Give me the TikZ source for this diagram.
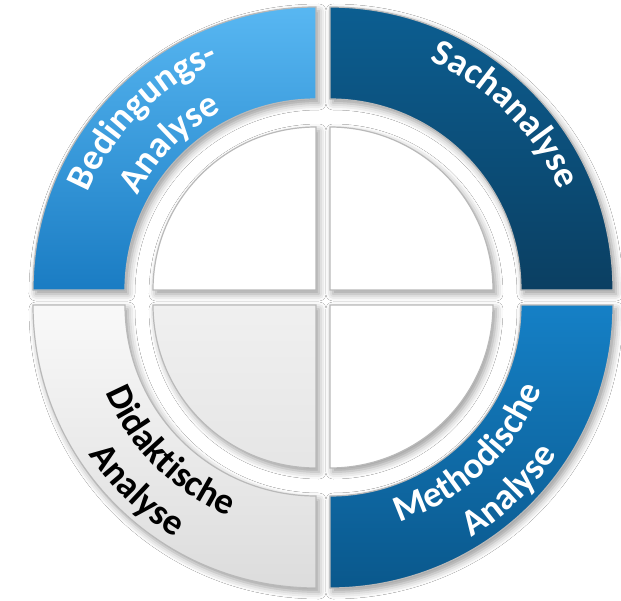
\documentclass[tikz,border=0pt]{standalone}
\usepackage{fontspec}
\setmainfont{Carlito}
\usetikzlibrary{decorations.text,shadows.blur}
\definecolor{TLtop}{RGB}{88,183,242}
\definecolor{TLbot}{RGB}{26,124,195}
\definecolor{TRtop}{RGB}{12,94,145}
\definecolor{TRbot}{RGB}{11,63,98}
\definecolor{BRtop}{RGB}{21,128,198}
\definecolor{BRbot}{RGB}{10,88,140}
\definecolor{BLtop}{RGB}{249,249,249}
\definecolor{BLbot}{RGB}{220,220,220}
\definecolor{Rim}{RGB}{185,185,185}
\newcommand{\segfont}{\fontsize{37}{40}\selectfont\bfseries}
\tikzset{
	segment/.style={draw=Rim,line width=1.2pt,blur shadow={shadow xshift=3pt,shadow yshift=-4pt,shadow blur radius=7pt,shadow opacity=40}},
	quarter/.style={segment,fill=white},
	curvedtext/.style={decorate,decoration={text along path,text align=center,text color=#1}}
}

\begin{document}
\begin{tikzpicture}[x=1pt,y=1pt]
		\useasboundingbox[fill=white] (-323,-302.5) rectangle (298,297.5);

		% corners of the four quadrants
		\coordinate (TL) at (-7,7.5);
		\coordinate (TR) at (7,7.5);
		\coordinate (BL) at (-7,-7.5);
		\coordinate (BR) at (7,-7.5);

		% outer ring segments
		\draw[segment,top color=TLtop,bottom color=TLbot] (TL) ++(180:283) arc[start angle=180,end angle=90,radius=283] -- ++(0,-92) arc[start angle=90,end angle=180,radius=191] -- cycle;
		\draw[segment,top color=TRtop,bottom color=TRbot] (TR) ++(90:283) arc[start angle=90,end angle=0,radius=283] -- ++(-92,0) arc[start angle=0,end angle=90,radius=191] -- cycle;
		\draw[segment,top color=BRtop,bottom color=BRbot] (BR) ++(0:283) arc[start angle=0,end angle=-90,radius=283] -- ++(0,92) arc[start angle=-90,end angle=0,radius=191] -- cycle;
		\draw[segment,top color=BLtop,bottom color=BLbot] (BL) ++(-90:283) arc[start angle=-90,end angle=-180,radius=283] -- ++(92,0) arc[start angle=180,end angle=270,radius=191] -- cycle;

		% inner quarters
		\draw[quarter] (TL) -- ++(-163,0) arc[start angle=180,end angle=90,radius=163] -- cycle;
		\draw[quarter] (TR) -- ++(0,163) arc[start angle=90,end angle=0,radius=163] -- cycle;
		\draw[quarter] (BR) -- ++(163,0) arc[start angle=0,end angle=-90,radius=163] -- cycle;
		\draw[quarter,top color=black!6,bottom color=black!10] (BL) -- ++(0,-163) arc[start angle=-90,end angle=-180,radius=163] -- cycle;

		% labels along the ring
		\path[curvedtext=white,decoration={text={|\segfont|Bedingungs-}}] (TL) ++(180:248) arc[start angle=180,end angle=90,radius=248];
		\path[curvedtext=white,decoration={text={|\segfont|Analyse}}] (TL) ++(180:202) arc[start angle=180,end angle=90,radius=202];
		\path[curvedtext=white,decoration={text={|\segfont|Sachanalyse}}] (TR) ++(90:250) arc[start angle=90,end angle=0,radius=250];
		\path[curvedtext=white,decoration={text={|\segfont|Methodische}}] (BR) ++(-92:228) arc[start angle=-92,end angle=-2,radius=228];
		\path[curvedtext=white,decoration={text={|\segfont|Analyse}}] (BR) ++(-91:272) arc[start angle=-91,end angle=-1,radius=272];
		\path[curvedtext=black,decoration={text={|\segfont|Didaktische}}] (BL) ++(180:228) arc[start angle=180,end angle=270,radius=228];
		\path[curvedtext=black,decoration={text={|\segfont|Analyse}}] (BL) ++(181:272) arc[start angle=181,end angle=271,radius=272];

	\end{tikzpicture}
\end{document}
